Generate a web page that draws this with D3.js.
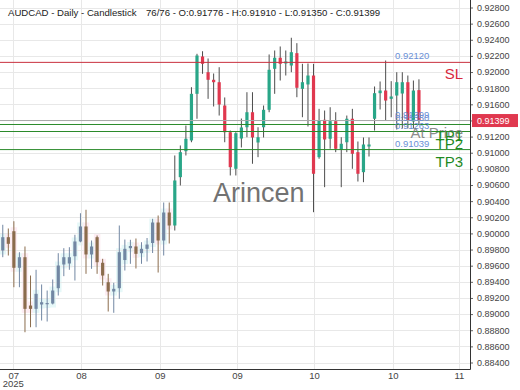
<!DOCTYPE html>
<html>
<head>
<meta charset="utf-8">
<script src="https://cdn.jsdelivr.net/npm/d3@7"></script>
<style>
  body { margin: 0; background: #fff; }
  svg { font-family: "Liberation Sans", Arial, sans-serif; }
</style>
</head>
<body>
<div id="container"></div>
<script>
/* DATA */
const symbol = "AUDCAD - Daily - Candlestick";

const opens = [0.89788, 0.89953, 0.90027, 0.89574, 0.89705, 0.89106, 0.89065, 0.89119, 0.89125, 0.89131,
  0.89321, 0.89615, 0.89627, 0.89717, 0.89900, 0.90086, 0.89739, 0.89953, 0.89636, 0.89395,
  0.89280, 0.89321, 0.89670, 0.89817, 0.89838, 0.89755, 0.89809, 0.89881, 0.90135, 0.89912,
  0.90259, 0.90098, 0.90697, 0.91019, 0.91152, 0.91730, 0.92193, 0.91998, 0.91904, 0.91874,
  0.91585, 0.91254, 0.90801, 0.91176, 0.91316, 0.91502, 0.91127, 0.91316, 0.91532, 0.92040,
  0.92177, 0.92106, 0.92081, 0.92234, 0.91792, 0.91846, 0.91957, 0.90945, 0.91408, 0.91173,
  0.91391, 0.91036, 0.91130, 0.91421, 0.91007, 0.90759, 0.91077, 0.91421, 0.91738, 0.91771,
  0.91668, 0.91709, 0.91734, 0.91874, 0.91387, 0.91776];

const highs = [0.90107, 0.90061, 0.90151, 0.89767, 0.89838, 0.89478, 0.89549, 0.89367, 0.89292, 0.89429,
  0.89755, 0.89817, 0.89829, 0.89983, 0.90250, 0.90293, 0.89912, 0.89974, 0.89685, 0.89499,
  0.89388, 0.90098, 0.89924, 0.89921, 0.89937, 0.89891, 0.89943, 0.90181, 0.90222, 0.90383,
  0.90383, 0.90966, 0.91090, 0.91337, 0.91812, 0.92226, 0.92258, 0.92168, 0.91982, 0.92060,
  0.91685, 0.91275, 0.91254, 0.91424, 0.91750, 0.91750, 0.91316, 0.91585, 0.92218, 0.92267,
  0.92317, 0.92267, 0.92425, 0.92358, 0.92102, 0.92106, 0.92102, 0.91544, 0.91523, 0.91564,
  0.91502, 0.91192, 0.91461, 0.91544, 0.91139, 0.91189, 0.91189, 0.91821, 0.91883, 0.92143,
  0.91887, 0.91998, 0.91998, 0.91957, 0.91895, 0.91910];

const lows = [0.89705, 0.89726, 0.89333, 0.89333, 0.88775, 0.88837, 0.88837, 0.88920, 0.88908, 0.89120,
  0.89230, 0.89470, 0.89549, 0.89416, 0.89890, 0.89499, 0.89561, 0.89499, 0.89354, 0.89032,
  0.89016, 0.89189, 0.89540, 0.89623, 0.89565, 0.89623, 0.89652, 0.89757, 0.89515, 0.89726,
  0.89875, 0.90036, 0.90594, 0.90966, 0.91130, 0.91421, 0.91978, 0.91668, 0.91573, 0.91461,
  0.91130, 0.90718, 0.90718, 0.91065, 0.91192, 0.90863, 0.90945, 0.91189, 0.91502, 0.91730,
  0.91895, 0.91957, 0.91998, 0.91688, 0.91440, 0.91325, 0.90263, 0.90925, 0.90573, 0.91049,
  0.91007, 0.90573, 0.91007, 0.90801, 0.90643, 0.90635, 0.90953, 0.91275, 0.91536, 0.91399,
  0.91440, 0.91288, 0.91300, 0.91300, 0.91300, 0.91350];

const closes = [0.89953, 0.89871, 0.89574, 0.89705, 0.89065, 0.89065, 0.89251, 0.89147, 0.89137, 0.89292,
  0.89602, 0.89705, 0.89705, 0.89900, 0.90086, 0.89739, 0.89838, 0.89643, 0.89478, 0.89280,
  0.89313, 0.89767, 0.89809, 0.89844, 0.89747, 0.89809, 0.89862, 0.90135, 0.89912, 0.90259,
  0.90098, 0.90656, 0.91007, 0.91173, 0.91730, 0.92205, 0.92102, 0.91904, 0.91874, 0.91598,
  0.91254, 0.90821, 0.91242, 0.91313, 0.91502, 0.91189, 0.91192, 0.91532, 0.92028, 0.92177,
  0.92102, 0.92131, 0.92246, 0.91805, 0.91874, 0.91957, 0.90739, 0.91399, 0.91164, 0.91391,
  0.91049, 0.91111, 0.91421, 0.90987, 0.90739, 0.91102, 0.91102, 0.91738, 0.91771, 0.91647,
  0.91697, 0.91874, 0.91874, 0.91399, 0.91771, 0.91399];

// candles before this index are drawn faded
const fadedCount = 31;

// x ticks (positions in candle index units)
const xTickPos = [1.9, 14.1, 28.3, 42.2, 56.1, 70.3, 82.2];
const xTickLabels = ["07", "08", "09", "09", "10", "10", "11"];
const yearLabel = "2025";

const yTicks = [0.884, 0.886, 0.888, 0.890, 0.892, 0.894, 0.896, 0.898, 0.900, 0.902, 0.904, 0.906,
  0.908, 0.910, 0.912, 0.914, 0.916, 0.918, 0.920, 0.922, 0.924, 0.926, 0.928];

// trade levels
const levelNames = ["SL", "At Price", "TP1", "TP2", "TP3"];
const levelValues = [0.92120, 0.91399, 0.91350, 0.91263, 0.91039];

const watermark = "Arincen";

/* CONSTANTS AND GLOBALS */
const width = 520,
  height = 390,
  plotRight = 470,
  plotBottom = 369;

const fmt = d3.format(".5f");

const levelColor = { "SL": "#c9303e", "At Price": "#a8a8a8", "TP1": "#2b8a2b", "TP2": "#2b8a2b", "TP3": "#2b8a2b" };
const levelText = { "SL": "#d8283c", "At Price": "#7a7a7a", "TP1": "#1f8a1f", "TP2": "#1f8a1f", "TP3": "#1f8a1f" };

const candles = opens.map((o, i) => ({ i, o, h: highs[i], l: lows[i], c: closes[i] }));

/* SCALES */
const xScale = d3.scaleLinear()
  .domain([-0.5, 84.2])
  .range([0, plotRight]);

const yScale = d3.scaleLinear()
  .domain([0.884, 0.928])
  .range([362.5, 7.5]);

const step = xScale(1) - xScale(0);
const bodyW = 3.2;

/* SVG */
const svg = d3.select("#container")
  .append("svg")
  .attr("width", width)
  .attr("height", height)
  .style("background", "#fff");

// faint bands behind the faded candles
svg.append("g")
  .selectAll("rect")
  .data(candles.filter(d => d.i < fadedCount))
  .join("rect")
  .attr("x", d => xScale(d.i) - step / 2 - 0.5)
  .attr("width", step + 1)
  .attr("y", d => yScale(Math.max(d.o, d.c)) - 4)
  .attr("height", d => Math.abs(yScale(d.o) - yScale(d.c)) + 8)
  .attr("fill", d => d.c >= d.o ? "#e6f8f8" : "#fdedf3");

// + GRIDLINES
svg.append("g")
  .selectAll("line")
  .data(yTicks)
  .join("line")
  .attr("x1", 0)
  .attr("x2", plotRight)
  .attr("y1", d => Math.round(yScale(d)) + 0.5)
  .attr("y2", d => Math.round(yScale(d)) + 0.5)
  .attr("stroke", "#e8e8e8");

svg.append("g")
  .selectAll("line")
  .data(xTickPos)
  .join("line")
  .attr("x1", d => Math.round(xScale(d)) + 0.5)
  .attr("x2", d => Math.round(xScale(d)) + 0.5)
  .attr("y1", 0)
  .attr("y2", plotBottom)
  .attr("stroke", "#e8e8e8");

// watermark
svg.append("text")
  .attr("x", 213)
  .attr("y", 202)
  .attr("font-size", 27)
  .attr("fill", "#727272")
  .text(watermark);

// + CANDLES
const candleG = svg.append("g");

const bodyColor = d => {
  const up = d.c >= d.o;
  if (d.i < fadedCount) return up ? "#7287a3" : "#8b6c4d";
  return up ? "#29a688" : "#e0384f";
};

candleG.selectAll("line.wick")
  .data(candles)
  .join("line")
  .attr("class", "wick")
  .attr("x1", d => xScale(d.i))
  .attr("x2", d => xScale(d.i))
  .attr("y1", d => yScale(d.h))
  .attr("y2", d => yScale(d.l))
  .attr("stroke", d => d.i < fadedCount ? bodyColor(d) : "#4d4d4d")
  .attr("stroke-width", 1);

candleG.selectAll("rect.body")
  .data(candles)
  .join("rect")
  .attr("class", "body")
  .attr("x", d => xScale(d.i) - bodyW / 2)
  .attr("width", bodyW)
  .attr("y", d => yScale(Math.max(d.o, d.c)))
  .attr("height", d => Math.max(1.2, Math.abs(yScale(d.o) - yScale(d.c))))
  .attr("fill", bodyColor);

// + LEVEL LINES
const levelG = svg.append("g");
levelNames.forEach((name, k) => {
  const yy = yScale(levelValues[k]);
  levelG.append("line")
    .attr("x1", 0)
    .attr("x2", plotRight)
    .attr("y1", yy)
    .attr("y2", yy)
    .attr("stroke", levelColor[name])
    .attr("stroke-width", 1);
  levelG.append("text")
    .attr("x", 395)
    .attr("y", yy - 3)
    .attr("font-size", 9.5)
    .attr("fill", "#6a8fd6")
    .text(fmt(levelValues[k]));
});
levelNames.forEach((name, k) => {
  levelG.append("text")
    .attr("x", 463)
    .attr("y", yScale(levelValues[k]) + 17)
    .attr("text-anchor", "end")
    .attr("font-size", 15)
    .attr("fill", levelText[name])
    .attr("opacity", name === "At Price" ? 0.85 : 1)
    .text(name);
});

// + AXES
const yAxis = d3.axisRight(yScale)
  .tickValues(yTicks)
  .tickFormat(fmt)
  .tickSize(3);

const yAxisGroup = svg.append("g")
  .attr("transform", `translate(${plotRight}, 0)`)
  .call(yAxis)
  .attr("font-family", null);
yAxisGroup.select(".domain").remove();
yAxisGroup.selectAll(".tick line").attr("stroke", "#666");
yAxisGroup.selectAll(".tick text").attr("fill", "#444").attr("font-size", 9).attr("x", 7);

const xAxis = d3.axisBottom(xScale)
  .tickValues(xTickPos)
  .tickFormat((d, i) => xTickLabels[i])
  .tickSize(0);

const xAxisGroup = svg.append("g")
  .attr("transform", `translate(0, ${plotBottom})`)
  .call(xAxis)
  .attr("font-family", null);
xAxisGroup.select(".domain").remove();
xAxisGroup.selectAll(".tick text").attr("fill", "#444").attr("font-size", 9.5).attr("y", 3);

xAxisGroup.append("text")
  .attr("x", xScale(xTickPos[0]))
  .attr("y", 18)
  .attr("text-anchor", "middle")
  .attr("fill", "#444")
  .attr("font-size", 9.5)
  .text(yearLabel);

// axis lines
svg.append("line")
  .attr("x1", plotRight + 0.5).attr("x2", plotRight + 0.5)
  .attr("y1", 0).attr("y2", plotBottom + 0.5)
  .attr("stroke", "#333");
svg.append("line")
  .attr("x1", 0).attr("x2", plotRight + 0.5)
  .attr("y1", plotBottom + 0.5).attr("y2", plotBottom + 0.5)
  .attr("stroke", "#333");

// last price tag
const last = closes[closes.length - 1];
svg.append("rect")
  .attr("x", plotRight + 2)
  .attr("y", yScale(last) - 6.5)
  .attr("width", 46)
  .attr("height", 13)
  .attr("fill", "#e0384f");
svg.append("text")
  .attr("x", plotRight + 7)
  .attr("y", yScale(last) + 3.5)
  .attr("font-size", 9)
  .attr("fill", "#fff")
  .text(fmt(last));

// + TITLE
const n = candles.length;
svg.append("text")
  .attr("x", 8)
  .attr("y", 16)
  .attr("font-size", 9.6)
  .attr("fill", "#222")
  .text(symbol);
svg.append("text")
  .attr("x", 146)
  .attr("y", 16)
  .attr("font-size", 9.6)
  .attr("fill", "#222")
  .text(`${n}/${n} - O:${fmt(opens[n - 1])} - H:${fmt(highs[n - 1])} - L:${fmt(lows[n - 1])} - C:${fmt(closes[n - 1])}`);
</script>
</body>
</html>
